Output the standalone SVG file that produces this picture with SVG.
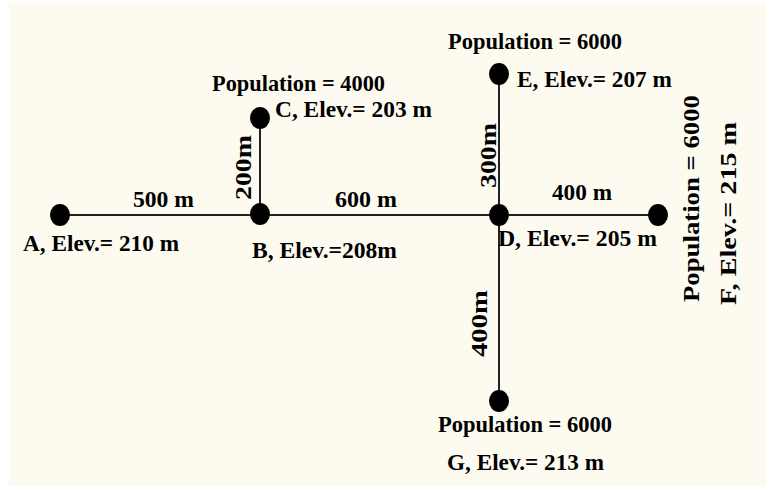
<svg xmlns="http://www.w3.org/2000/svg" width="769" height="486" viewBox="0 0 769 486">
<style>
.lbl{font-family:"Liberation Serif","Times New Roman",serif;font-weight:bold;font-size:23px;fill:#000}
.pipe{stroke:#222;stroke-width:2;fill:none}
.node{fill:#000}
</style>
<rect x="0" y="0" width="769" height="486" fill="#ffffff"/>
<rect x="9" y="3" width="757" height="483" fill="#fdfbf0"/>
<g id="connectors">
<line class="pipe" x1="60" y1="215" x2="499" y2="215"/>
<line class="pipe" x1="499" y1="215" x2="658" y2="215"/>
<line class="pipe" x1="260" y1="118" x2="260" y2="215"/>
<line class="pipe" x1="499" y1="74" x2="499" y2="215"/>
<line class="pipe" x1="499" y1="215" x2="499" y2="401"/>
<text class="lbl" x="133" y="207" textLength="61" lengthAdjust="spacingAndGlyphs">500 m</text>
<text class="lbl" x="335" y="207" textLength="62" lengthAdjust="spacingAndGlyphs">600 m</text>
<text class="lbl" x="552" y="200" textLength="60" lengthAdjust="spacingAndGlyphs">400 m</text>
<text class="lbl" transform="translate(251,200) rotate(-90)" textLength="65" lengthAdjust="spacingAndGlyphs">200m</text>
<text class="lbl" transform="translate(496,188) rotate(-90)" textLength="65" lengthAdjust="spacingAndGlyphs">300m</text>
<text class="lbl" transform="translate(487,357) rotate(-90)" textLength="67" lengthAdjust="spacingAndGlyphs">400m</text>
</g>
<g id="A">
<ellipse class="node" cx="60" cy="215" rx="10" ry="11"/>
<text class="lbl" x="23" y="251" textLength="156" lengthAdjust="spacingAndGlyphs">A, Elev.= 210 m</text>
</g>
<g id="B">
<ellipse class="node" cx="260" cy="214" rx="10" ry="11"/>
<text class="lbl" x="252" y="258" textLength="145" lengthAdjust="spacingAndGlyphs">B, Elev.=208m</text>
</g>
<g id="C">
<ellipse class="node" cx="260" cy="118" rx="10" ry="11"/>
<text class="lbl" x="212" y="91" textLength="173" lengthAdjust="spacingAndGlyphs">Population = 4000</text>
<text class="lbl" x="275" y="117" textLength="157" lengthAdjust="spacingAndGlyphs">C, Elev.= 203 m</text>
</g>
<g id="D">
<ellipse class="node" cx="499" cy="215" rx="10" ry="11"/>
<text class="lbl" x="498" y="246" textLength="159" lengthAdjust="spacingAndGlyphs">D, Elev.= 205 m</text>
</g>
<g id="E">
<ellipse class="node" cx="499" cy="74" rx="10" ry="11"/>
<text class="lbl" x="448" y="49" textLength="174" lengthAdjust="spacingAndGlyphs">Population = 6000</text>
<text class="lbl" x="517" y="87" textLength="155" lengthAdjust="spacingAndGlyphs">E, Elev.= 207 m</text>
</g>
<g id="F">
<ellipse class="node" cx="658" cy="215" rx="10" ry="11"/>
<text class="lbl" transform="translate(699,302) rotate(-90)" textLength="207" lengthAdjust="spacingAndGlyphs">Population = 6000</text>
<text class="lbl" transform="translate(736,305) rotate(-90)" textLength="183" lengthAdjust="spacingAndGlyphs">F, Elev.= 215 m</text>
</g>
<g id="G">
<ellipse class="node" cx="499" cy="401" rx="10" ry="11"/>
<text class="lbl" x="438" y="432" textLength="174" lengthAdjust="spacingAndGlyphs">Population = 6000</text>
<text class="lbl" x="447" y="470" textLength="157" lengthAdjust="spacingAndGlyphs">G, Elev.= 213 m</text>
</g>
</svg>
